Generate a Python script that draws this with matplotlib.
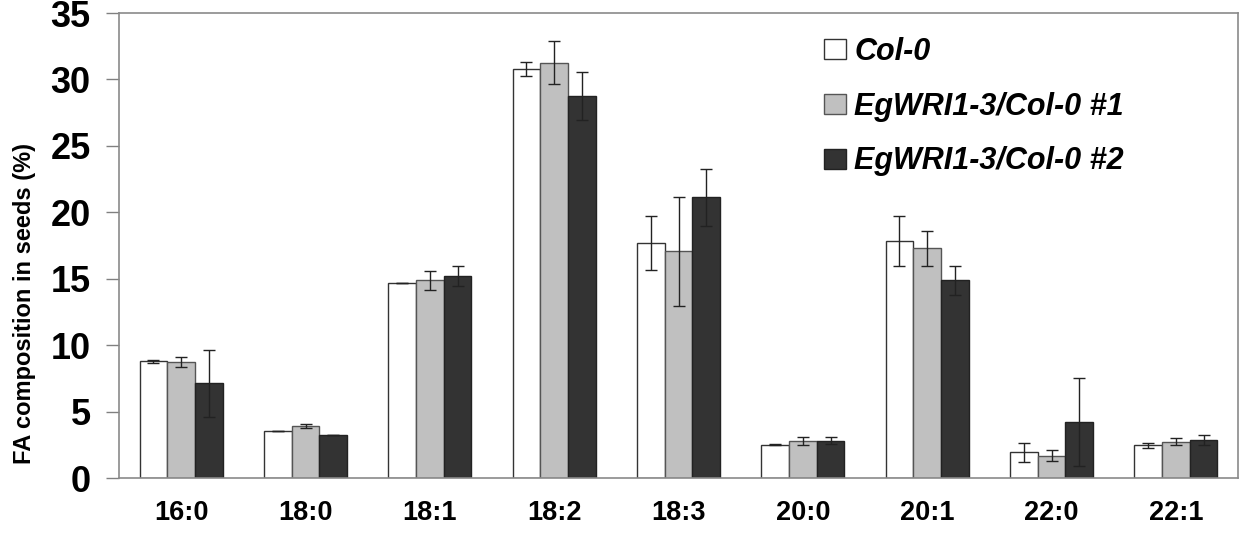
import matplotlib
matplotlib.use("Agg")
import matplotlib.pyplot as plt
import numpy as np
from matplotlib.patches import Patch

plt.rcParams['font.family'] = ['Liberation Sans', 'DejaVu Sans']

categories = ["16:0", "18:0", "18:1", "18:2", "18:3", "20:0", "20:1", "22:0", "22:1"]
series_names = ["Col-0", "EgWRI1-3/Col-0 #1", "EgWRI1-3/Col-0 #2"]
col0 = [8.78, 3.51, 14.65, 30.78, 17.68, 2.51, 17.83, 1.93, 2.46]
col0_err = [0.12, 0.0, 0.0, 0.5, 2.03, 0.03, 1.9, 0.7, 0.2]
line1 = [8.7, 3.89, 14.87, 31.25, 17.06, 2.78, 17.28, 1.68, 2.73]
line1_err = [0.38, 0.15, 0.74, 1.63, 4.1, 0.28, 1.3, 0.4, 0.25]
line2 = [7.12, 3.26, 15.18, 28.74, 21.12, 2.81, 14.87, 4.19, 2.88]
line2_err = [2.5, 0.0, 0.75, 1.8, 2.15, 0.28, 1.1, 3.3, 0.38]
yticks = [0, 5, 10, 15, 20, 25, 30, 35]

values = [col0, line1, line2]
errs = [col0_err, line1_err, line2_err]
colors = ["#FFFFFF", "#C0C0C0", "#333333"]
edges = ["#333333", "#555555", "#222222"]

W, H = 1240, 554
fig = plt.figure(figsize=(W / 100, H / 100), dpi=100)
ax = fig.add_axes([119 / W, 1 - 478 / H, (1238 - 119) / W, (478 - 13) / H])

x = np.arange(len(categories))
bw = 0.223
for i in range(3):
    ax.bar(x + (i - 1) * bw, values[i], width=bw, color=colors[i],
           edgecolor=edges[i], linewidth=1.0, zorder=2)
    ax.errorbar(x + (i - 1) * bw, values[i], yerr=errs[i], fmt='none',
                ecolor='#222222', elinewidth=1.0, capsize=4.5, capthick=1.0, zorder=3)

ax.set_xlim(-0.5, len(categories) - 0.5)
ax.set_ylim(0, 35)
ax.set_yticks(yticks)
ax.set_yticklabels([str(t) for t in yticks], fontsize=26, fontweight='bold')
ax.set_xticks(x)
ax.set_xticklabels(categories, fontsize=19.5, fontweight='bold')
ax.tick_params(axis='x', length=0, pad=16)
ax.tick_params(axis='y', length=9.4, width=1, color='#808080', pad=11)
for s in ax.spines.values():
    s.set_color('#8a8a8a')
    s.set_linewidth(1.2)

fig.text(25 / W, 1 - 303 / H, "FA composition in seeds (%)", rotation=90,
         fontsize=17, fontweight='bold', ha='center', va='center')

handles = [Patch(facecolor=colors[i], edgecolor=edges[i], linewidth=1.0) for i in range(3)]
leg = ax.legend(handles, series_names, loc='upper left',
                bbox_to_anchor=(824 / W, 1 - 37 / H), bbox_transform=fig.transFigure,
                frameon=False, prop={'size': 22, 'weight': 'bold', 'style': 'italic'},
                handlelength=0.72, handleheight=0.65, handletextpad=0.27,
                labelspacing=0.81, borderpad=0, borderaxespad=0)

fig.savefig("out.png", dpi=100)
